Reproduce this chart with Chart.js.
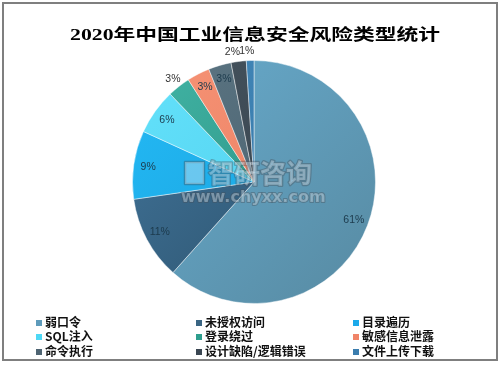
<!DOCTYPE html>
<html>
<head>
<meta charset="utf-8">
<script src="https://cdn.jsdelivr.net/npm/chart.js@4"></script>
<style>
  html, body { margin: 0; padding: 0; background: #fff; }
  #wrap { position: relative; width: 501px; height: 365px; overflow: hidden; }
  #frame { position: absolute; left: 2px; top: 2px; width: 492px; height: 355px; border: 2px solid #7f7f7f; pointer-events: none; }
  #legend { position: absolute; left: 0; top: 0; width: 501px; height: 365px; pointer-events: none;
            font: bold 12px "Noto Sans CJK SC", sans-serif; color: #111; }
  .li { position: absolute; white-space: nowrap; line-height: 14px; height: 14px; }
  .li i { display: inline-block; width: 6px; height: 6px; margin-right: 3px; vertical-align: 1px; }
</style>
</head>
<body>
<div id="wrap">
  <canvas id="c" width="501" height="365"></canvas>
  <div id="legend"></div>
  <div id="frame"></div>
</div>
<script>
const title = "2020年中国工业信息安全风险类型统计";
const categories = ["弱口令", "未授权访问", "目录遍历", "SQL注入", "登录绕过", "敏感信息泄露", "命令执行", "设计缺陷/逻辑错误", "文件上传下载"];
const values = [61, 11, 9, 6, 3, 3, 3, 2, 1];
const colorsLight = ["#68acce", "#43769c", "#24baf6", "#64e2fb", "#42b6a6", "#f79476", "#5c7684", "#46545f", "#4288ba"];
const colorsDark  = ["#578aa2", "#284d66", "#179ed8", "#4ccbea", "#258579", "#e67a5e", "#465c69", "#323e48", "#3373a2"];
const legendColors = ["#5e9bbb", "#3a6583", "#1ba9ea", "#4ed8f5", "#2e9e8e", "#f08468", "#4e6472", "#3a4652", "#3b7dae"];
const labelOutside = [false, false, false, false, true, false, false, true, true];
const labelNudgeX = [0, 0, 0, 0, 0, 0, 0, -5, -3];
const watermark = ["智研咨询", "www.chyxx.com"];

// legend (3 columns)
const legendEl = document.getElementById('legend');
const colX = [36, 196, 353];
const rowY = [315, 329, 344];
categories.forEach((c, i) => {
  const d = document.createElement('div');
  d.className = 'li';
  d.style.left = colX[i % 3] + 'px';
  d.style.top = rowY[Math.floor(i / 3)] + 'px';
  const m = document.createElement('i');
  m.style.background = legendColors[i];
  d.appendChild(m);
  d.appendChild(document.createTextNode(c));
  legendEl.appendChild(d);
});

const titlePlugin = {
  id: 'stretchTitle',
  afterDraw(chart) {
    const ctx = chart.ctx;
    ctx.save();
    ctx.translate(255, 36);
    ctx.scale(1.36, 1);
    ctx.font = "bold 16px 'Liberation Serif', 'Noto Sans CJK SC', serif";
    ctx.fillStyle = '#000';
    ctx.textAlign = 'center';
    ctx.textBaseline = 'middle';
    ctx.fillText(title, 0, 0);
    ctx.restore();
  }
};

const labelPlugin = {
  id: 'sliceLabels',
  afterDatasetsDraw(chart) {
    const ctx = chart.ctx;
    const meta = chart.getDatasetMeta(0);
    // watermark
    ctx.save();
    ctx.textBaseline = 'middle';
    ctx.textAlign = 'left';
    ctx.lineJoin = 'round';
    ctx.font = "bold 26px 'Noto Sans CJK SC', sans-serif";
    ctx.strokeStyle = 'rgba(70,80,90,0.4)';
    ctx.lineWidth = 2.5;
    ctx.fillStyle = 'rgba(220,236,246,0.4)';
    ctx.strokeText(watermark[0], 208, 173);
    ctx.fillText(watermark[0], 208, 173);
    ctx.strokeRect(185, 162, 19, 22);
    ctx.fillRect(185, 162, 19, 22);
    ctx.font = "bold 16px 'DejaVu Sans', sans-serif";
    ctx.lineWidth = 2;
    ctx.strokeText(watermark[1], 181, 198);
    ctx.fillText(watermark[1], 181, 198);
    ctx.restore();

    ctx.save();
    ctx.font = "10.5px 'Liberation Sans', sans-serif";
    ctx.textAlign = 'center';
    ctx.textBaseline = 'middle';
    meta.data.forEach((arc, i) => {
      const p = arc.getProps(['x', 'y', 'startAngle', 'endAngle', 'outerRadius']);
      const mid = (p.startAngle + p.endAngle) / 2;
      const r = p.outerRadius * (labelOutside[i] ? 1.08 : 0.88);
      ctx.fillStyle = labelOutside[i] ? '#333' : '#1c3a4c';
      ctx.fillText(values[i] + '%', p.x + Math.cos(mid) * r + labelNudgeX[i], p.y + Math.sin(mid) * r);
    });
    ctx.restore();
  }
};

const gradCache = {};
function sliceFill(context) {
  const i = context.dataIndex;
  const chart = context.chart;
  const a = chart.chartArea;
  if (!a || i === undefined) return colorsLight[i || 0];
  const key = i + ':' + a.left + ':' + a.top;
  if (!gradCache[key]) {
    const g = chart.ctx.createLinearGradient(a.left, a.top, a.right, a.bottom);
    g.addColorStop(0, colorsLight[i]);
    g.addColorStop(1, colorsDark[i]);
    gradCache[key] = g;
  }
  return gradCache[key];
}

new Chart(document.getElementById('c'), {
  type: 'pie',
  data: {
    labels: categories,
    datasets: [{
      data: values,
      backgroundColor: sliceFill,
      borderColor: 'rgba(255,255,255,0.45)',
      borderWidth: 1
    }]
  },
  options: {
    responsive: false,
    animation: false,
    layout: { padding: { top: 60, bottom: 61, left: 132, right: 125 } },
    plugins: {
      legend: { display: false },
      title: { display: false },
      tooltip: { enabled: false }
    }
  },
  plugins: [titlePlugin, labelPlugin]
});
</script>
</body>
</html>
